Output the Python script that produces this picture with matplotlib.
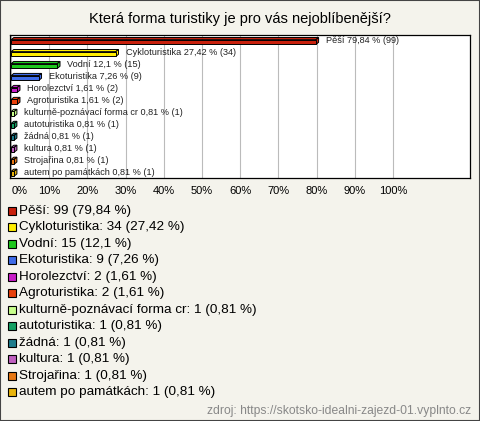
import matplotlib
matplotlib.use("Agg")
import matplotlib.pyplot as plt
from matplotlib.patches import Polygon, Rectangle

plt.rcParams['font.family'] = ['Liberation Sans', 'DejaVu Sans']

categories = ["Pěší", "Cykloturistika", "Vodní", "Ekoturistika", "Horolezctví",
              "Agroturistika", "kulturně-poznávací forma cr", "autoturistika",
              "žádná", "kultura", "Strojařina", "autem po památkách"]
counts = [99, 34, 15, 9, 2, 2, 1, 1, 1, 1, 1, 1]
percents = [79.84, 27.42, 12.1, 7.26, 1.61, 1.61, 0.81, 0.81, 0.81, 0.81, 0.81, 0.81]
colors = ["#c8200c", "#ffee00", "#1ec81e", "#3f6ce8", "#c81ec8", "#e8400c",
          "#c8ff8c", "#14a064", "#1e7c8c", "#c060c0", "#e87814", "#e8b40c"]
ticks = [0, 10, 20, 30, 40, 50, 60, 70, 80, 90, 100]

bg = "#f4f3ec"

def fmt(v):
    return ("%g" % v).replace(".", ",")

fig = plt.figure(figsize=(4.8, 4.21), dpi=100, facecolor=bg)
fig.patches.append(Rectangle((0, 0), 1, 1, transform=fig.transFigure,
                             fill=False, edgecolor="#444444", linewidth=1.5))

fig.text(0.5, 1 - 19 / 421, "Která forma turistiky je pro vás nejoblíbenější?",
         ha="center", va="center", fontsize=10.5)

ax = fig.add_axes([10 / 480, 1 - 178 / 421, 460 / 480, 143 / 421])
ax.set_facecolor("white")
ax.set_xlim(-0.3, 120.2)
ax.set_ylim(11.45, -0.5)
ax.set_xticks(ticks)
ax.grid(axis="x", color="#bbbbbb", linewidth=0.8)
ax.set_axisbelow(True)
ax.tick_params(length=0, labelsize=8, pad=6)
ax.set_xticklabels(["%d%%" % t for t in ticks])
ax.get_xticklabels()[0].set_horizontalalignment("left")
ax.set_yticks([])
for s in ax.spines.values():
    s.set_linewidth(0.9)

h = 0.4
dx, dy = 0.7, 0.18
for i, (cat, c, p, col) in enumerate(zip(categories, counts, percents, colors)):
    y0 = i - h / 2 + dy / 2
    ax.add_patch(Polygon([(0, y0), (dx, y0 - dy), (p + dx, y0 - dy), (p, y0)],
                         closed=True, facecolor=col, edgecolor="black", linewidth=0.7))
    ax.add_patch(Polygon([(p, y0), (p + dx, y0 - dy), (p + dx, y0 + h - dy), (p, y0 + h)],
                         closed=True, facecolor=col, edgecolor="black", linewidth=0.7))
    ax.add_patch(Rectangle((0, y0), p, h, facecolor=col, edgecolor="black", linewidth=0.7))
    ax.text(p + 2.6, i, "%s %s %% (%d)" % (cat, fmt(p), c), fontsize=6.6,
            va="center", ha="left", color="#222222")

for i, (cat, c, p, col) in enumerate(zip(categories, counts, percents, colors)):
    yy = 1 - (211 + i * 16.45) / 421
    fig.patches.append(Rectangle((8 / 480, yy - 4 / 421), 8 / 480, 8 / 421,
                                 transform=fig.transFigure, facecolor=col,
                                 edgecolor="black", linewidth=0.8))
    fig.text(19 / 480, yy, "%s: %d (%s %%)" % (cat, c, fmt(p)), fontsize=9.7,
             va="center", ha="left")

fig.text(471 / 480, 1 - 411 / 421, "zdroj: https://skotsko-idealni-zajezd-01.vyplnto.cz",
         ha="right", va="center", fontsize=8.7, color="#888888")

fig.savefig("out.png", dpi=100, facecolor=bg)
